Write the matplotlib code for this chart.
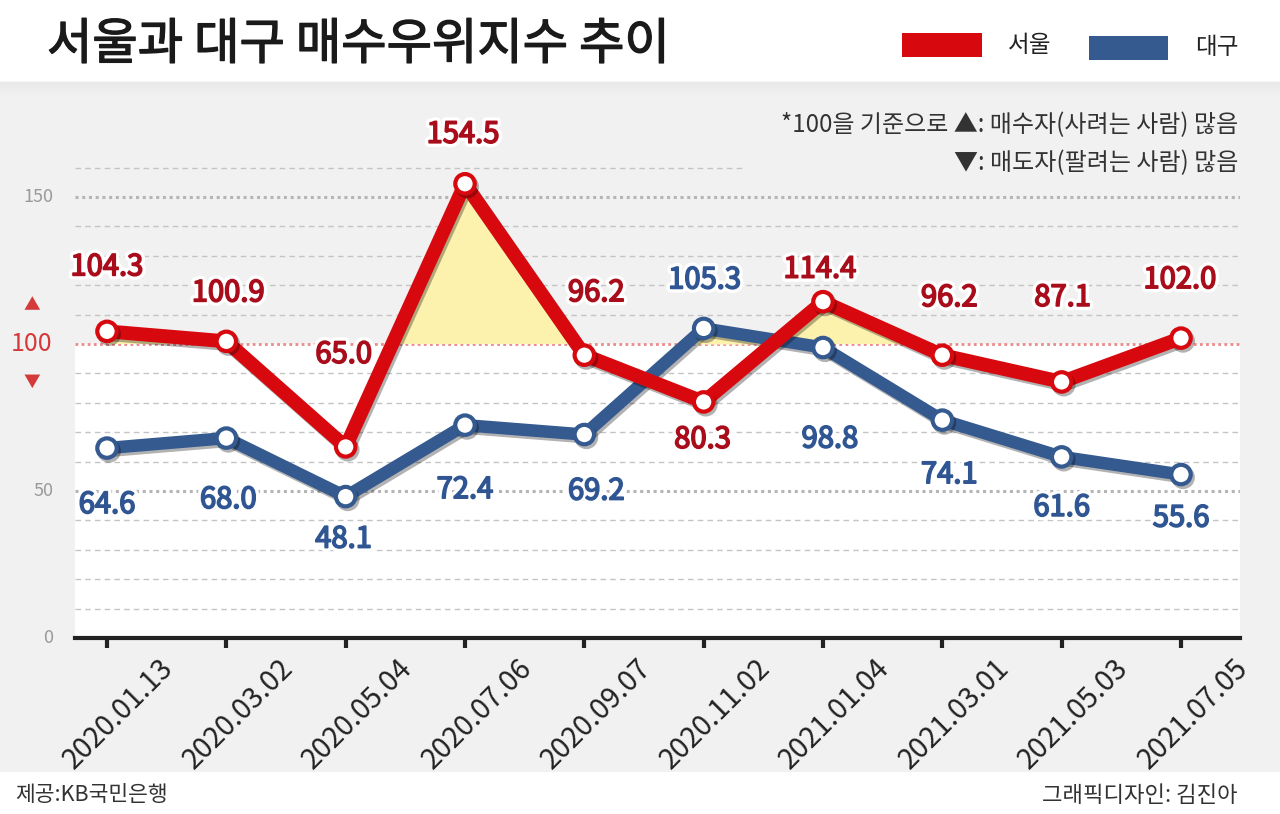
import matplotlib
matplotlib.use("Agg")
import matplotlib.pyplot as plt
import matplotlib.patheffects as pe
import matplotlib.transforms as mtransforms
import numpy as np
from matplotlib.patches import Rectangle

plt.rcParams['font.family'] = ['Noto Sans CJK KR', 'DejaVu Sans']

# data
dates = ['2020.01.13', '2020.03.02', '2020.05.04', '2020.07.06', '2020.09.07',
         '2020.11.02', '2021.01.04', '2021.03.01', '2021.05.03', '2021.07.05']
seoul = [104.3, 100.9, 65.0, 154.5, 96.2, 80.3, 114.4, 96.2, 87.1, 102.0]
daegu = [64.6, 68.0, 48.1, 72.4, 69.2, 105.3, 98.8, 74.1, 61.6, 55.6]

# label offsets in pixels (dx, dy) from each point
seoul_off = [(0, 64), (2, 48), (-2, 92), (-2, 49), (12, 62), (-1, -38), (-3, 32), (7, 57), (1, 84), (-1, 58)]
daegu_off = [(0, -57), (2, -62), (-2, -43), (0, -65), (12, -57), (1, 48), (7, -92), (7, -55), (0, -51), (0, -44)]

RED = '#d7090f'
BLUE = '#355a90'
RED_TXT = '#a90d1b'
BLUE_TXT = '#2f5592'
BG = '#f2f1f1'

W, H = 1280, 814
fig = plt.figure(figsize=(12.8, 8.14), dpi=100, facecolor='white')

# gray panel
fig.patches.append(Rectangle((0, 1 - 772 / H), 1, (772 - 82) / H, transform=fig.transFigure,
                             facecolor=BG, edgecolor='none', zorder=-5))
for k in range(10):
    fig.patches.append(Rectangle((0, 1 - (82 + k * 1.5) / H), 1, 1.5 / H, transform=fig.transFigure,
                                 facecolor='#000000', alpha=0.035 * (10 - k) / 10,
                                 edgecolor='none', zorder=-4))

ax_l, ax_r, ax_b, ax_t = 75, 1240, 638, 95
ax = fig.add_axes([ax_l / W, 1 - ax_b / H, (ax_r - ax_l) / W, (ax_b - ax_t) / H])
ax.set_zorder(2)
ax.set_facecolor('none')
x = np.arange(len(dates))
ax.set_xlim(-32 / 119.33, 9 + 59 / 119.33)
ax.set_ylim(0, (ax_b - ax_t) / 2.94)

# white area below 100
ax.axhspan(0, 100, color='white', zorder=0)

# grid
for g in range(10, 170, 10):
    if g in (50, 150):
        ax.axhline(g, color='#b5b5b5', lw=2.2, ls=(0, (1, 1.2)), zorder=1)
    elif g == 100:
        ax.axhline(g, color='#ec8a8a', lw=2.0, ls=(0, (1, 1.2)), zorder=1)
    elif g == 160:
        ax.axhline(g, xmax=0.573, color='#c4c4c4', lw=1, ls=(0, (4, 3)), zorder=1)
    else:
        ax.axhline(g, color='#c4c4c4', lw=1, ls=(0, (4, 3)), zorder=1)

# yellow fill above 100
sa = np.array(seoul)
da = np.array(daegu)
ax.fill_between(x, 100, sa, where=sa > 100, interpolate=True, color='#fcf1ad', lw=0, zorder=2)
ax.fill_between(x, 100, da, where=da > 100, interpolate=True, color='#fcf1ad', lw=0, zorder=2)

shadow = [pe.SimpleLineShadow(offset=(1.5, -2), shadow_color='#000000', alpha=0.3), pe.Normal()]
ax.plot(x, daegu, color=BLUE, lw=9, solid_capstyle='round', solid_joinstyle='round',
        marker='o', ms=14, mfc='white', mec=BLUE, mew=3, zorder=3, path_effects=shadow)
ax.plot(x, seoul, color=RED, lw=10, solid_capstyle='round', solid_joinstyle='round',
        marker='o', ms=14, mfc='white', mec=RED, mew=3, zorder=4, path_effects=shadow)


def outline(col):
    return [pe.Stroke(linewidth=6, foreground='white'),
            pe.Stroke(linewidth=1.2, foreground=col), pe.Normal()]


for i, v in enumerate(seoul):
    ax.annotate(f'{v:.1f}', (x[i], v), xytext=seoul_off[i], textcoords='offset pixels',
                ha='center', va='center', fontsize=21, color=RED_TXT,
                path_effects=outline(RED_TXT), zorder=6)
for i, v in enumerate(daegu):
    ax.annotate(f'{v:.1f}', (x[i], v), xytext=daegu_off[i], textcoords='offset pixels',
                ha='center', va='center', fontsize=21, color=BLUE_TXT,
                path_effects=outline(BLUE_TXT), zorder=6)

# axes styling
for s in ['top', 'right', 'left']:
    ax.spines[s].set_visible(False)
ax.spines['bottom'].set_color('#222222')
ax.spines['bottom'].set_linewidth(3)
ax.set_yticks([])
ax.set_xticks(x)
ax.set_xticklabels(dates, rotation=45, ha='center', va='top', fontsize=20.5, color='#222222')
ax.tick_params(axis='x', direction='out', length=7, width=3, color='#222222', pad=4)
shift = mtransforms.ScaledTranslation(12 / 100, 0, fig.dpi_scale_trans)
for lab in ax.get_xticklabels():
    lab.set_transform(lab.get_transform() + shift)

# y labels
for val in [150, 50, 0]:
    ax.text(-0.45, val, str(val), ha='right', va='center', fontsize=13, color='#9a9a9a')
ax.text(-0.63, 100, '100', ha='center', va='center', fontsize=18, color='#d43a3a')
ax.text(-0.63, 113, '▲', ha='center', va='center', fontsize=12, color='#d43a3a')
ax.text(-0.63, 87, '▼', ha='center', va='center', fontsize=12, color='#d43a3a')

# header
fig.text(47 / W, 1 - 45 / H, '서울과 대구 매수우위지수 추이', fontsize=35.5,
         ha='left', va='center', color='#1a1a1a',
         path_effects=[pe.Stroke(linewidth=1.0, foreground='#1a1a1a'), pe.Normal()])
fig.patches.append(Rectangle((902 / W, 1 - 57 / H), 80 / W, 24 / H, transform=fig.transFigure,
                             facecolor=RED, edgecolor='none'))
fig.text(1008 / W, 1 - 46 / H, '서울', fontsize=17, ha='left', va='center', color='#222222')
fig.patches.append(Rectangle((1089 / W, 1 - 60 / H), 79 / W, 24 / H, transform=fig.transFigure,
                             facecolor=BLUE, edgecolor='none'))
fig.text(1195 / W, 1 - 47 / H, '대구', fontsize=17, ha='left', va='center', color='#222222')

# note
fig.text(1238 / W, 1 - 125 / H, '*100을 기준으로 ▲: 매수자(사려는 사람) 많음', fontsize=17.3,
         ha='right', va='center', color='#333333')
fig.text(1238 / W, 1 - 163 / H, '▼: 매도자(팔려는 사람) 많음', fontsize=17.3,
         ha='right', va='center', color='#333333')

# footer
fig.text(15 / W, 1 - 795 / H, '제공:KB국민은행', fontsize=15.5, ha='left', va='center', color='#333333')
fig.text(1238 / W, 1 - 795 / H, '그래픽디자인: 김진아', fontsize=16, ha='right', va='center', color='#333333')

fig.savefig('out.png', dpi=100, facecolor='white')
